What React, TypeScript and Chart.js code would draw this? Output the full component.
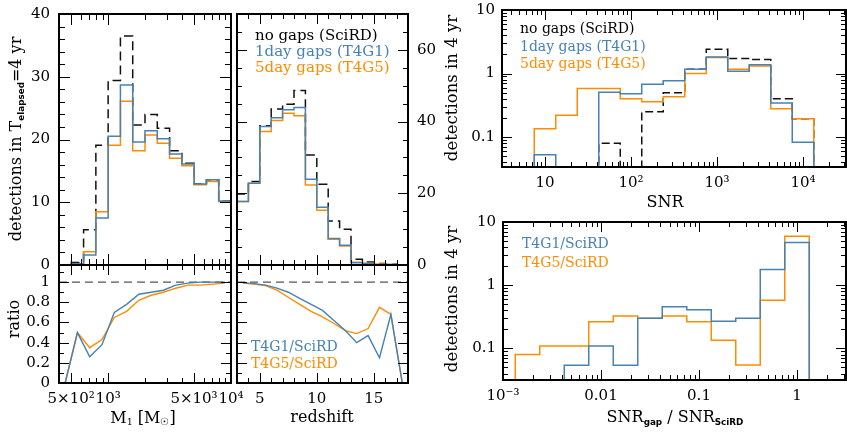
import React, { useEffect, useRef } from "react";
import { Chart, registerables } from "chart.js";

Chart.register(...registerables);

// ---------------- data ----------------
const M1_EDGES = [398.1, 501.2, 631.0, 794.3, 1000, 1258.9, 1584.9, 1995.3, 2511.9, 3162.3, 3981.1, 5011.9, 6309.6, 7943.3, 10000];
const M1_SCIRD = [0, 0.4, 5.6, 19.1, 29.4, 36.5, 22.3, 24.0, 21.8, 18.2, 16.2, 12.9, 13.6, 10.2];
const M1_T4G1 = [0, 0.2, 1.6, 7.5, 20.5, 28.7, 19.6, 21.4, 20.1, 17.7, 16.1, 12.9, 13.6, 10.2];
const M1_T4G5 = [0, 0.2, 2.1, 8.5, 19.1, 26.1, 18.2, 20.7, 19.4, 17.0, 15.8, 12.8, 13.3, 10.1];
const M1_RATIO_T4G1 = [0, 0.5, 0.26, 0.38, 0.70, 0.78, 0.88, 0.90, 0.92, 0.97, 0.99, 1.0, 1.0, 1.0];
const M1_RATIO_T4G5 = [0, 0.5, 0.35, 0.43, 0.65, 0.71, 0.82, 0.87, 0.90, 0.94, 0.97, 0.97, 0.98, 0.99];

const Z_EDGES = [3, 4, 5, 6, 7, 8, 9, 10, 11, 12, 13, 14, 15, 16, 17, 18];
const Z_SCIRD = [19.8, 23.3, 38.8, 43.5, 44.8, 48.7, 30.7, 22.5, 12.3, 10.0, 1.6, 0.85, 0.4, 0.2, 0.05];
const Z_T4G1 = [17.7, 22.8, 38.6, 41.1, 43.3, 43.9, 23.9, 16.1, 7.4, 5.5, 0.65, 0.4, 0.1, 0.14, 0];
const Z_T4G5 = [17.7, 22.8, 37.2, 40.3, 42.3, 41.6, 22.3, 15.3, 7.2, 5.3, 0.8, 0.46, 0.3, 0.14, 0];
const Z_RATIO_T4G1 = [0.995, 0.985, 0.97, 0.94, 0.90, 0.84, 0.78, 0.72, 0.62, 0.52, 0.40, 0.47, 0.25, 0.68, 0];
const Z_RATIO_T4G5 = [0.99, 0.98, 0.965, 0.92, 0.85, 0.78, 0.71, 0.655, 0.59, 0.52, 0.49, 0.54, 0.75, 0.68, 0];

const SNR_EDGES = [7.50, 13.34, 23.71, 42.17, 74.99, 133.4, 237.1, 421.7, 749.9, 1334, 2371, 4217, 7499, 13335];
const SNR_SCIRD = [0, 0, 0, 0.08, 0, 0.25, 0.50, 1.17, 2.42, 1.73, 1.66, 0.40, 0.195];
const SNR_T4G1 = [0.053, 0, 0, 0.51, 0.48, 0.68, 0.77, 1.17, 1.83, 1.09, 1.38, 0.344, 0.083];
const SNR_T4G5 = [0.135, 0.22, 0.58, 0.58, 0.40, 0.36, 0.43, 1.0, 1.79, 1.17, 1.32, 0.28, 0.195];

const SNRR_EDGES = [0.001334, 0.002371, 0.004217, 0.007499, 0.01334, 0.02371, 0.04217, 0.07499, 0.1334, 0.2371, 0.4217, 0.7499, 1.334];
const SNRR_T4G1 = [0, 0, 0.054, 0.109, 0.054, 0.30, 0.455, 0.41, 0.27, 0.30, 1.77, 4.72];
const SNRR_T4G5 = [0.080, 0.109, 0.109, 0.264, 0.324, 0.30, 0.324, 0.264, 0.135, 0.0545, 0.58, 5.94];

// tick labels
const COUNT40_TICKS = [0, 10, 20, 30, 40];
const COUNT70_TICKS = [0, 20, 40, 60];
const RATIO_TICKS = [0, 0.2, 0.4, 0.6, 0.8, 1];
const RATIO_TICK_LABELS = ["0", "0.2", "0.4", "0.6", "0.8", "1"];
const M1_TICKS = [500, 1000, 5000, 10000];
const M1_TICK_LABELS = ["5×10²", "10³", "5×10³", "10⁴"];
const Z_TICKS = [5, 10, 15];
const SNR_TICKS = [10, 100, 1000, 10000];
const SNR_TICK_LABELS = ["10", "10²", "10³", "10⁴"];
const SNRR_TICKS = [0.001, 0.01, 0.1, 1];
const SNRR_TICK_LABELS = ["10⁻³", "0.01", "0.1", "1"];
const LOGY_TICKS = [0.1, 1, 10];
const LOGY_TICK_LABELS = ["0.1", "1", "10"];

// ---------------- styling ----------------
const BLUE = "#4682b4";
const ORANGE = "#ff8c00";
const BLACK = "#111111";
const SERIF = "'DejaVu Serif', serif";

// ---------------- helpers ----------------
function linSeq(a: number, b: number, step: number, skip: number[] = []) {
  const out: number[] = [];
  for (let v = a; v <= b + 1e-9; v += step) {
    const r = Math.round(v * 1000) / 1000;
    if (!skip.some((s) => Math.abs(s - r) < 1e-9)) out.push(r);
  }
  return out;
}
function logMinor(lo: number, hi: number, skip: number[] = []) {
  const out: number[] = [];
  for (let e = -4; e <= 5; e++) {
    for (let m = 1; m <= 9; m++) {
      const v = m * Math.pow(10, e);
      if (v >= lo * 0.999 && v <= hi * 1.001 && !skip.some((s) => Math.abs(s - v) / s < 1e-6)) out.push(v);
    }
  }
  return out;
}
function histPoints(edges: number[], vals: number[], floor: number) {
  const f = (v: number) => (v > 0 ? v : floor);
  const pts = [{ x: edges[0], y: floor }];
  vals.forEach((v, i) => pts.push({ x: edges[i], y: f(v) }));
  pts.push({ x: edges[edges.length - 1], y: f(vals[vals.length - 1]) });
  pts.push({ x: edges[edges.length - 1], y: floor });
  return pts;
}
function centersLog(edges: number[]) {
  return edges.slice(0, -1).map((e, i) => Math.sqrt(e * edges[i + 1]));
}
function centersLin(edges: number[]) {
  return edges.slice(0, -1).map((e, i) => (e + edges[i + 1]) / 2);
}
function hist(edges: number[], vals: number[], color: string, floor: number, dash: number[] = []) {
  return {
    data: histPoints(edges, vals, floor),
    borderColor: color,
    borderWidth: 1.5,
    borderDash: dash,
    pointRadius: 0,
    stepped: true,
    fill: false,
  };
}
function poly(xs: number[], ys: number[], color: string) {
  return {
    data: xs.map((x, i) => ({ x, y: ys[i] })),
    borderColor: color,
    borderWidth: 1.4,
    pointRadius: 0,
    tension: 0,
    fill: false,
  };
}
function unityLine(xmin: number, xmax: number) {
  return {
    data: [{ x: xmin, y: 1 }, { x: xmax, y: 1 }],
    borderColor: "#555",
    borderWidth: 1.4,
    borderDash: [8, 5],
    pointRadius: 0,
    fill: false,
  };
}

type AxisCfg = {
  type: "linear" | "logarithmic";
  min: number;
  max: number;
  major: number[];
  minor: number[];
  labels?: { values: number[]; text: string[] };
  side?: "left" | "right";
  pad?: number;
};
type PanelCfg = {
  area: { l: number; t: number; r: number; b: number };
  margin: { l: number; t: number; r: number; b: number };
  x: AxisCfg;
  y: AxisCfg;
  datasets: any[];
  majorLen?: number;
  minorLen?: number;
};

const frameTicks = {
  id: "frameTicks",
  afterDatasetsDraw(chart: any, _args: any, opts: any) {
    const cfg: PanelCfg = opts.cfg;
    const { ctx, chartArea: a, scales } = chart;
    const xs = scales.x;
    const ys = scales.y;
    const ML = cfg.majorLen ?? 10;
    const mL = cfg.minorLen ?? 5;
    ctx.save();
    ctx.strokeStyle = "#000";
    ctx.lineWidth = 1;
    const drawX = (vals: number[], len: number) => {
      vals.forEach((v) => {
        const px = Math.round(xs.getPixelForValue(v)) + 0.5;
        if (px < a.left + 1 || px > a.right - 1) return;
        ctx.beginPath();
        ctx.moveTo(px, a.bottom);
        ctx.lineTo(px, a.bottom - len);
        ctx.moveTo(px, a.top);
        ctx.lineTo(px, a.top + len);
        ctx.stroke();
      });
    };
    const drawY = (vals: number[], len: number) => {
      vals.forEach((v) => {
        const py = Math.round(ys.getPixelForValue(v)) + 0.5;
        if (py < a.top + 1 || py > a.bottom - 1) return;
        ctx.beginPath();
        ctx.moveTo(a.left, py);
        ctx.lineTo(a.left + len, py);
        ctx.moveTo(a.right, py);
        ctx.lineTo(a.right - len, py);
        ctx.stroke();
      });
    };
    drawX(cfg.x.major, ML);
    drawX(cfg.x.minor, mL);
    drawY(cfg.y.major, ML);
    drawY(cfg.y.minor, mL);
    ctx.lineWidth = 2;
    ctx.strokeRect(a.left, a.top, a.right - a.left, a.bottom - a.top);
    ctx.restore();
  },
};

function scaleOf(ax: AxisCfg, isX: boolean, size: number) {
  const show = !!ax.labels;
  return {
    type: ax.type,
    min: ax.min,
    max: ax.max,
    position: isX ? "bottom" : ax.side ?? "left",
    display: show,
    grid: { display: false, drawTicks: false },
    border: { display: false },
    ticks: {
      autoSkip: false,
      maxRotation: 0,
      minRotation: 0,
      padding: ax.pad ?? 6,
      color: "#000",
      font: { family: SERIF, size: 15 },
      callback: (v: any) => {
        if (!ax.labels) return "";
        const n = Number(v);
        const i = ax.labels.values.findIndex((t) => Math.abs(t - n) <= 1e-6 * Math.max(1e-9, Math.abs(t)) + 1e-12);
        return i >= 0 ? ax.labels.text[i] : "";
      },
    },
    afterBuildTicks: (s: any) => {
      if (ax.labels) s.ticks = ax.labels.values.map((v) => ({ value: v }));
    },
    afterFit: (s: any) => {
      if (!show) return;
      if (isX) s.height = size;
      else s.width = size;
    },
  };
}

function Panel({ cfg }: { cfg: PanelCfg }) {
  const ref = useRef<HTMLCanvasElement>(null);
  const { area, margin } = cfg;
  const w = area.r - area.l + margin.l + margin.r;
  const h = area.b - area.t + margin.t + margin.b;
  useEffect(() => {
    if (!ref.current) return;
    const xShow = !!cfg.x.labels;
    const yShow = !!cfg.y.labels;
    const ySide = cfg.y.side ?? "left";
    const chart = new Chart(ref.current, {
      type: "line",
      data: { datasets: cfg.datasets },
      options: {
        responsive: false,
        maintainAspectRatio: false,
        animation: false,
        devicePixelRatio: 1,
        events: [],
        layout: {
          padding: {
            left: yShow && ySide === "left" ? 0 : margin.l,
            right: yShow && ySide === "right" ? 0 : margin.r,
            top: margin.t,
            bottom: xShow ? 0 : margin.b,
          },
        },
        scales: {
          x: scaleOf(cfg.x, true, margin.b) as any,
          y: scaleOf(cfg.y, false, ySide === "left" ? margin.l : margin.r) as any,
        },
        plugins: {
          legend: { display: false },
          tooltip: { enabled: false },
          frameTicks: { cfg },
        } as any,
      },
      plugins: [frameTicks as any],
    } as any);
    return () => chart.destroy();
  }, []);
  return (
    <canvas
      ref={ref}
      width={w}
      height={h}
      style={{ position: "absolute", left: area.l - margin.l, top: area.t - margin.t, width: w, height: h }}
    />
  );
}

// ---------------- panel configs ----------------
const M1_MIN = M1_EDGES[0];
const M1_MAX = M1_EDGES[M1_EDGES.length - 1];
const m1Axis = (labels: boolean): AxisCfg => ({
  type: "logarithmic",
  min: M1_MIN,
  max: M1_MAX,
  major: M1_TICKS,
  minor: logMinor(M1_MIN, M1_MAX, M1_TICKS),
  labels: labels ? { values: M1_TICKS, text: M1_TICK_LABELS } : undefined,
  pad: 7,
});
const zAxis = (labels: boolean): AxisCfg => ({
  type: "linear",
  min: 3,
  max: 18,
  major: Z_TICKS,
  minor: linSeq(3, 18, 1, Z_TICKS),
  labels: labels ? { values: Z_TICKS, text: Z_TICKS.map(String) } : undefined,
  pad: 7,
});
const ratioAxis = (labels: boolean): AxisCfg => ({
  type: "linear",
  min: 0,
  max: 1.17,
  major: RATIO_TICKS,
  minor: linSeq(0.1, 1.1, 0.2),
  labels: labels ? { values: RATIO_TICKS, text: RATIO_TICK_LABELS } : undefined,
  pad: 9,
});
const logYAxis = (min: number): AxisCfg => ({
  type: "logarithmic",
  min,
  max: 10,
  major: LOGY_TICKS,
  minor: logMinor(min, 10, LOGY_TICKS),
  labels: { values: LOGY_TICKS, text: LOGY_TICK_LABELS },
  pad: 7,
});

const PANELS: PanelCfg[] = [
  {
    area: { l: 59, t: 14, r: 231, b: 265 },
    margin: { l: 59, t: 24, r: 8, b: 24 },
    x: m1Axis(false),
    y: {
      type: "linear",
      min: 0,
      max: 40,
      major: COUNT40_TICKS,
      minor: linSeq(0, 40, 2, COUNT40_TICKS),
      labels: { values: COUNT40_TICKS, text: COUNT40_TICKS.map(String) },
      pad: 9,
    },
    datasets: [
      hist(M1_EDGES, M1_T4G1, BLUE, 0),
      hist(M1_EDGES, M1_T4G5, ORANGE, 0),
      hist(M1_EDGES, M1_SCIRD, BLACK, 0, [9, 5]),
    ],
    majorLen: 11,
    minorLen: 6,
  },
  {
    area: { l: 237, t: 14, r: 408, b: 265 },
    margin: { l: 8, t: 24, r: 34, b: 24 },
    x: zAxis(false),
    y: {
      type: "linear",
      min: 0,
      max: 70,
      major: COUNT70_TICKS,
      minor: linSeq(0, 70, 5, COUNT70_TICKS),
      labels: { values: COUNT70_TICKS, text: COUNT70_TICKS.map(String) },
      side: "right",
      pad: 9,
    },
    datasets: [
      hist(Z_EDGES, Z_T4G1, BLUE, 0),
      hist(Z_EDGES, Z_T4G5, ORANGE, 0),
      hist(Z_EDGES, Z_SCIRD, BLACK, 0, [9, 5]),
    ],
  },
  {
    area: { l: 59, t: 265, r: 231, b: 383 },
    margin: { l: 59, t: 24, r: 24, b: 30 },
    x: m1Axis(true),
    y: ratioAxis(true),
    datasets: [
      poly(centersLog(M1_EDGES), M1_RATIO_T4G1, BLUE),
      poly(centersLog(M1_EDGES), M1_RATIO_T4G5, ORANGE),
      unityLine(M1_MIN, M1_MAX),
    ],
  },
  {
    area: { l: 237, t: 265, r: 408, b: 383 },
    margin: { l: 24, t: 24, r: 24, b: 30 },
    x: zAxis(true),
    y: ratioAxis(false),
    datasets: [
      poly(centersLin(Z_EDGES), Z_RATIO_T4G1, BLUE),
      poly(centersLin(Z_EDGES), Z_RATIO_T4G5, ORANGE),
      unityLine(3, 18),
    ],
  },
  {
    area: { l: 502, t: 10, r: 846, b: 167 },
    margin: { l: 50, t: 24, r: 1, b: 30 },
    x: {
      type: "logarithmic",
      min: 3.162,
      max: 31623,
      major: SNR_TICKS,
      minor: logMinor(3.162, 31623, SNR_TICKS),
      labels: { values: SNR_TICKS, text: SNR_TICK_LABELS },
      pad: 7,
    },
    y: logYAxis(0.0339),
    datasets: [
      hist(SNR_EDGES, SNR_T4G1, BLUE, 1e-4),
      hist(SNR_EDGES, SNR_T4G5, ORANGE, 1e-4),
      hist(SNR_EDGES, SNR_SCIRD, BLACK, 1e-4, [8, 4]),
    ],
  },
  {
    area: { l: 503, t: 222, r: 846, b: 380 },
    margin: { l: 50, t: 24, r: 1, b: 30 },
    x: {
      type: "logarithmic",
      min: 0.001,
      max: 3.162,
      major: SNRR_TICKS,
      minor: logMinor(0.001, 3.162, SNRR_TICKS),
      labels: { values: SNRR_TICKS, text: SNRR_TICK_LABELS },
      pad: 7,
    },
    y: logYAxis(0.0316),
    datasets: [
      hist(SNRR_EDGES, SNRR_T4G1, BLUE, 1e-4),
      hist(SNRR_EDGES, SNRR_T4G5, ORANGE, 1e-4),
    ],
  },
];

// ---------------- text overlays ----------------
function Txt(props: {
  x: number;
  y: number;
  color?: string;
  size?: number;
  bold?: boolean;
  center?: boolean;
  rotate?: boolean;
  children: React.ReactNode;
}) {
  const { x, y, color = "#000", size = 16, bold, center, rotate, children } = props;
  let transform = "translate(0,-50%)";
  if (center) transform = "translate(-50%,-50%)";
  if (rotate) transform = "translate(-50%,-50%) rotate(-90deg)";
  return (
    <div
      style={{
        position: "absolute",
        left: x,
        top: y,
        transform,
        color,
        fontSize: size,
        fontFamily: SERIF,
        fontWeight: bold ? "bold" : "normal",
        whiteSpace: "nowrap",
        lineHeight: 1,
      }}
    >
      {children}
    </div>
  );
}

const subStyle: React.CSSProperties = { fontSize: "0.6em", verticalAlign: "-0.25em" };
const subBold: React.CSSProperties = { fontSize: "0.55em", verticalAlign: "-0.3em", fontFamily: "'DejaVu Sans', sans-serif", fontWeight: "bold" };

export default function App() {
  return (
    <div style={{ position: "fixed", left: 0, top: 0, width: 847, height: 433, background: "#fff", overflow: "hidden" }}>
      {PANELS.map((p, i) => (
        <Panel key={i} cfg={p} />
      ))}
      {/* axis titles */}
      <Txt x={17} y={139} rotate size={16}>
        detections in T<span style={subBold}>elapsed</span>=4 yr
      </Txt>
      <Txt x={14} y={319} rotate size={16}>ratio</Txt>
      <Txt x={143} y={418} center size={16}>
        M<span style={subStyle}>1</span> [M<span style={subStyle}>☉</span>]
      </Txt>
      <Txt x={322} y={417} center size={16}>redshift</Txt>
      <Txt x={452} y={88} rotate size={16.5}>detections in 4 yr</Txt>
      <Txt x={665} y={202} center size={16}>SNR</Txt>
      <Txt x={452} y={299} rotate size={16.5}>detections in 4 yr</Txt>
      <Txt x={675} y={418} center size={16}>
        SNR<span style={subBold}>gap</span> / SNR<span style={subBold}>SciRD</span>
      </Txt>
      {/* legends */}
      <Txt x={255} y={35} size={15}>no gaps (SciRD)</Txt>
      <Txt x={255} y={51} size={15} color={BLUE}>1day gaps (T4G1)</Txt>
      <Txt x={255} y={67} size={15} color={ORANGE}>5day gaps (T4G5)</Txt>
      <Txt x={520} y={28} size={14}>no gaps (SciRD)</Txt>
      <Txt x={520} y={46} size={14} color={BLUE}>1day gaps (T4G1)</Txt>
      <Txt x={520} y={63} size={14} color={ORANGE}>5day gaps (T4G5)</Txt>
      <Txt x={251} y={346} size={14} color={BLUE}>T4G1/SciRD</Txt>
      <Txt x={251} y={363} size={14} color={ORANGE}>T4G5/SciRD</Txt>
      <Txt x={522} y={243} size={14} color={BLUE}>T4G1/SciRD</Txt>
      <Txt x={522} y={262} size={14} color={ORANGE}>T4G5/SciRD</Txt>
    </div>
  );
}
